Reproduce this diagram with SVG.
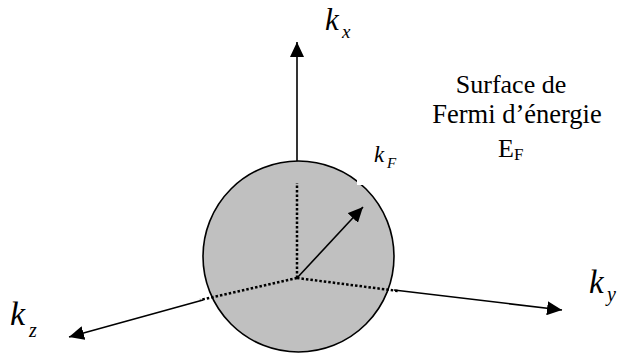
<svg xmlns="http://www.w3.org/2000/svg" width="617" height="356" viewBox="0 0 617 356">
<defs>
<marker id="ah" markerUnits="userSpaceOnUse" markerWidth="15" markerHeight="14" refX="15" refY="7" orient="auto">
<path d="M0,0 L15,7 L0,14 z" fill="#000"/>
</marker>
<style>
.ax{stroke:#000;stroke-width:1.6;fill:none}
.dot{stroke:#000;stroke-width:2.5;stroke-dasharray:2.5 2;fill:none}
.t{font-family:"Liberation Serif","Times New Roman",serif;fill:#000}
.i{font-style:italic}
</style>
</defs>
<rect width="617" height="356" fill="#fff"/>
<g id="connectors">
<line class="ax" x1="297" y1="161" x2="297" y2="42" marker-end="url(#ah)"/>
<line class="ax" x1="203" y1="300" x2="69" y2="337" marker-end="url(#ah)"/>
<line class="ax" x1="394" y1="290" x2="562" y2="310" marker-end="url(#ah)"/>
</g>
<g id="sphere">
<circle cx="298.5" cy="256.5" r="95.5" fill="#c0c0c0" stroke="#000" stroke-width="1.6"/>
<rect x="357" y="180" width="8" height="5" fill="#fff"/>
<line class="dot" x1="297" y1="278" x2="297" y2="183"/>
<line class="dot" x1="297" y1="278" x2="200" y2="300"/>
<line class="dot" x1="297" y1="278" x2="398" y2="291"/>
<line class="ax" x1="297" y1="278" x2="363" y2="207" marker-end="url(#ah)"/>
</g>
<g id="label-kx"><text class="t i" x="325" y="30" font-size="31">k</text><text class="t i" x="342" y="38" font-size="19">x</text></g>
<g id="label-kz"><text class="t i" x="10" y="325" font-size="34">k</text><text class="t i" x="29" y="337" font-size="20">z</text></g>
<g id="label-ky"><text class="t i" x="589" y="293" font-size="33">k</text><text class="t i" x="607" y="301" font-size="20">y</text></g>
<g id="label-kF"><text class="t i" x="374" y="162" font-size="23">k</text><text class="t i" x="387" y="168" font-size="15">F</text></g>
<g id="label-surface">
<text class="t" x="511" y="93" font-size="26" text-anchor="middle">Surface de</text>
<text class="t" x="517" y="123" font-size="26.5" text-anchor="middle">Fermi d’énergie</text>
<text class="t" x="498" y="157" font-size="26">E<tspan font-size="17" dy="3">F</tspan></text>
</g>
</svg>
